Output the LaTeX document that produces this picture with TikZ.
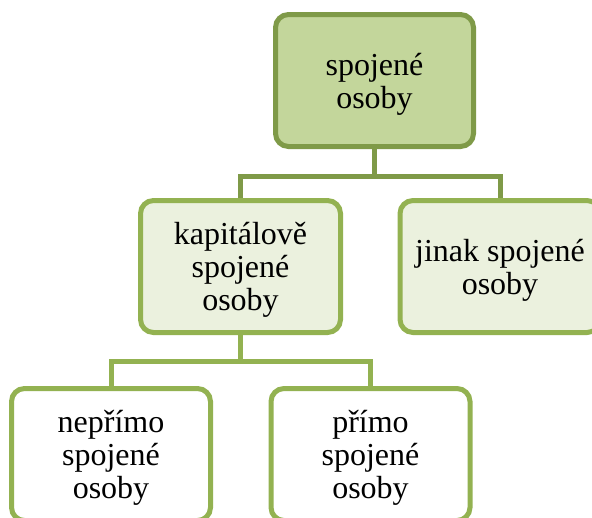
\documentclass[tikz,border=0pt]{standalone}
\usepackage{fontspec}
\newfontfamily\tnrfont{Liberation Serif}
\definecolor{olivedark}{HTML}{7F9A48}
\definecolor{olive}{HTML}{93B251}
\definecolor{olivefill}{HTML}{C3D69B}
\definecolor{olivelight}{HTML}{EBF1DE}
\begin{document}
\begin{tikzpicture}[x=1pt, y=-1pt,
			orgbox/.style={draw=olive, line width=5pt, rounded corners=13pt, align=center,
				minimum width=199pt, minimum height=132pt, inner sep=0pt, text depth=0pt,
				font=\tnrfont\fontsize{32}{33}\selectfont},
			topbox/.style={orgbox, draw=olivedark, fill=olivefill, minimum width=198pt},
			midbox/.style={orgbox, fill=olivelight, minimum width=200pt},
			leafbox/.style={orgbox, fill=white},
			link/.style={line width=5pt}
			]
			\path[use as bounding box] (0,0) rectangle (592,517);
			\clip (0,0) rectangle (592,517);
			\node[topbox] (top) at (374.5,80.5) {spojené\\osoby};
			\node[midbox] (kap) at (240.5,266.5) {kapitálově\\spojené\\osoby};
			\node[midbox] (jin) at (500,266.5) {jinak spojené\\osoby};
			\node[leafbox] (nep) at (111,454.5) {nepřímo\\spojené\\osoby};
			\node[leafbox] (pri) at (370.5,454.5) {přímo\\spojené\\osoby};
			\coordinate (j1) at (374.5,176);
			\coordinate (j2) at (240.5,361);
			\draw[link, draw=olivedark] (top.south) -- (j1);
			\draw[link, draw=olivedark] (kap.north) |- (j1) -| (jin.north);
			\draw[link, draw=olive] (kap.south) -- (j2);
			\draw[link, draw=olive] (nep.north) |- (j2) -| (pri.north);
			\end{tikzpicture}
\end{document}
